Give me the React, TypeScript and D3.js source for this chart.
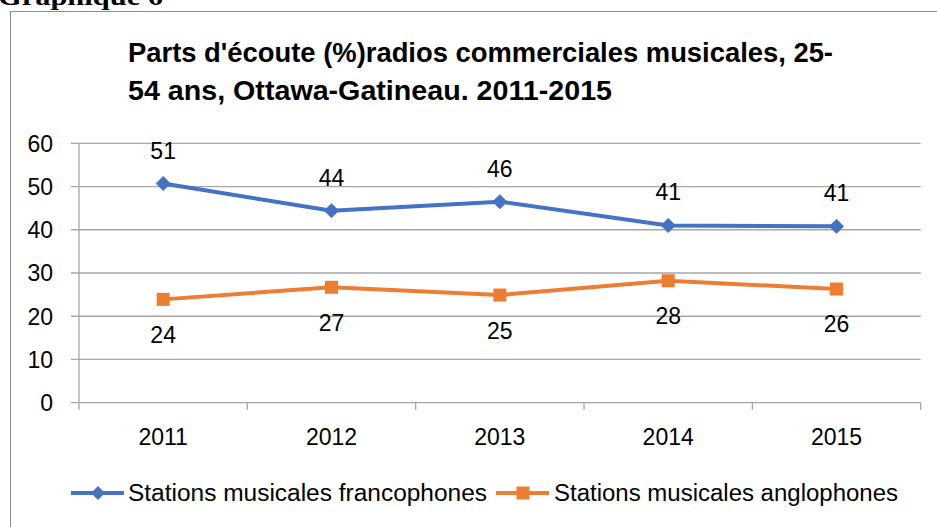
import React from "react";
import * as d3 from "d3";

const years = ["2011", "2012", "2013", "2014", "2015"];
const francophones = [50.7, 44.4, 46.5, 41.0, 40.8];
const anglophones = [23.9, 26.7, 24.9, 28.2, 26.3];
const francoLabels = ["51", "44", "46", "41", "41"];
const angloLabels = ["24", "27", "25", "28", "26"];
const yTicks = [0, 10, 20, 30, 40, 50, 60];
const titleLines = [
  "Parts d'écoute (%)radios commerciales musicales, 25-",
  "54 ans, Ottawa-Gatineau. 2011-2015",
];
const seriesNames = ["Stations musicales francophones", "Stations musicales anglophones"];

const BLUE = "#4472C4";
const ORANGE = "#ED7D31";
const GRID = "#a6a6a6";
const FONT = "'Liberation Sans', Arial, sans-serif";
const FS = 23;

export default function App() {
  const W = 937, H = 527;
  const left = 79, right = 920.7, top = 143.3, bottom = 402.7;
  const x = d3.scaleBand<string>().domain(years).range([left, right]);
  const y = d3.scaleLinear().domain([0, 60]).range([bottom, top]);
  const cx = (i: number) => (x(years[i]) as number) + x.bandwidth() / 2;
  const line = d3.line<number>().x((_, i) => cx(i)).y((v) => y(v));
  const diamond = (px: number, py: number, r: number) =>
    `M${px},${py - r}L${px + r},${py}L${px},${py + r}L${px - r},${py}Z`;

  return (
    <svg width={W} height={H} style={{ position: "absolute", left: 0, top: 0, background: "#fff" }}>
      <rect x={0} y={0} width={W} height={H} fill="#fff" />
      <text x={-2} y={5} fontFamily="'Liberation Serif', 'DejaVu Serif', serif" fontWeight="bold" fontSize={25} textLength={165} lengthAdjust="spacingAndGlyphs">
        Graphique 6
      </text>
      <rect x={10.5} y={11.5} width={W + 10} height={H + 10} fill="none" stroke="#8c8c8c" strokeWidth={1} />

      {titleLines.map((t, i) => (
        <text key={i} x={128} y={62 + i * 38} fontFamily={FONT} fontWeight="bold" fontSize={27} fill="#000"
          textLength={i === 0 ? 705 : 484} lengthAdjust="spacingAndGlyphs">
          {t}
        </text>
      ))}

      {yTicks.map((t) => (
        <g key={t}>
          <line x1={71} x2={right} y1={y(t)} y2={y(t)} stroke={GRID} strokeWidth={1.3} />
          <text x={53} y={y(t)} dy="0.36em" textAnchor="end" fontFamily={FONT} fontSize={FS} fill="#000">
            {t}
          </text>
        </g>
      ))}
      <line x1={left} x2={left} y1={top} y2={bottom + 7} stroke={GRID} strokeWidth={1.3} />
      {years.map((yr, i) => (
        <line key={"tk" + i} x1={(x(yr) as number) + x.bandwidth()} x2={(x(yr) as number) + x.bandwidth()}
          y1={bottom} y2={bottom + 7} stroke={GRID} strokeWidth={1.3} />
      ))}
      {years.map((yr, i) => (
        <text key={"xl" + i} x={cx(i)} y={444.5} textAnchor="middle" fontFamily={FONT} fontSize={FS} fill="#000">
          {yr}
        </text>
      ))}

      <path d={line(francophones) as string} fill="none" stroke={BLUE} strokeWidth={4} strokeLinejoin="round" />
      <path d={line(anglophones) as string} fill="none" stroke={ORANGE} strokeWidth={4} strokeLinejoin="round" />
      {francophones.map((v, i) => (
        <path key={"fm" + i} d={diamond(cx(i), y(v), 7)} fill={BLUE} stroke={BLUE} strokeWidth={1} />
      ))}
      {anglophones.map((v, i) => (
        <rect key={"am" + i} x={cx(i) - 6.5} y={y(v) - 6.5} width={13} height={13} fill={ORANGE} />
      ))}
      {francophones.map((v, i) => (
        <text key={"fl" + i} x={cx(i)} y={y(v) - 25} textAnchor="middle" fontFamily={FONT} fontSize={FS} fill="#000">
          {francoLabels[i]}
        </text>
      ))}
      {anglophones.map((v, i) => (
        <text key={"al" + i} x={cx(i)} y={y(v) + 43.5} textAnchor="middle" fontFamily={FONT} fontSize={FS} fill="#000">
          {angloLabels[i]}
        </text>
      ))}

      {/* legend */}
      <line x1={71} x2={124} y1={493} y2={493} stroke={BLUE} strokeWidth={4} />
      <path d={diamond(98, 493, 7)} fill={BLUE} />
      <text x={128} y={493} dy="0.36em" fontFamily={FONT} fontSize={FS} fill="#000" textLength={359} lengthAdjust="spacingAndGlyphs">
        {seriesNames[0]}
      </text>
      <line x1={496} x2={549} y1={493} y2={493} stroke={ORANGE} strokeWidth={4} />
      <rect x={516.5} y={486.5} width={13} height={13} fill={ORANGE} />
      <text x={554} y={493} dy="0.36em" fontFamily={FONT} fontSize={FS} fill="#000" textLength={344} lengthAdjust="spacingAndGlyphs">
        {seriesNames[1]}
      </text>
    </svg>
  );
}
